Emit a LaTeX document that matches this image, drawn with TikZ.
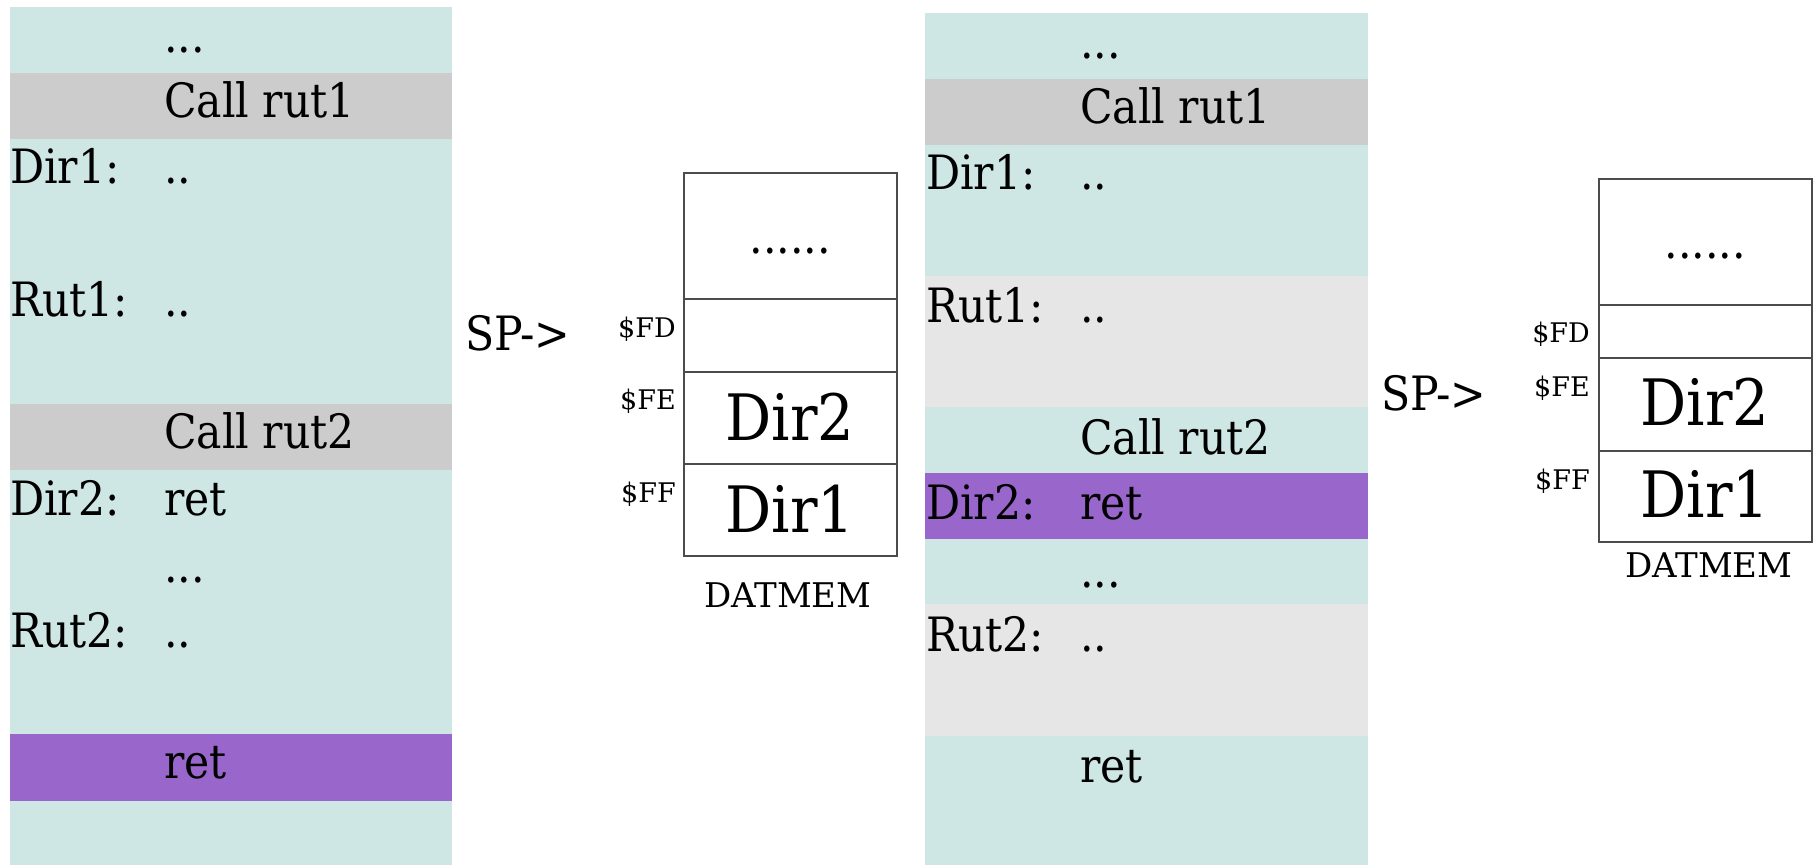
\documentclass[tikz,border=0pt]{standalone}
\usepackage{fontspec}
\setmainfont{DejaVu Serif}
\newfontfamily\condfont{DejaVu Serif Condensed}
\definecolor{tealband}{RGB}{207,231,228}
\definecolor{grayband}{RGB}{204,204,204}
\definecolor{lightband}{RGB}{230,230,230}
\definecolor{purpleband}{RGB}{153,102,204}
\tikzset{
  txt/.style={inner sep=0pt, anchor=base west, font=\condfont\fontsize{47.3}{52}\selectfont},
  big/.style={inner sep=0pt, anchor=base, font=\condfont\fontsize{64}{70}\selectfont},
  addr/.style={inner sep=0pt, anchor=base east, font=\fontsize{27}{30}\selectfont},
  memlbl/.style={inner sep=0pt, anchor=base, font=\fontsize{34}{38}\selectfont},
  dots/.style={inner sep=0pt, anchor=base, font=\condfont\fontsize{47.3}{52}\selectfont},
  cellline/.style={draw=black!70, line width=1.3pt}
}
\begin{document}
\begin{tikzpicture}[x=1pt,y=-1pt]
\useasboundingbox (0,0) rectangle (1816,865);
% ---------- panel 1 ----------
\fill[tealband]   (10,7)   rectangle (452,73);
\fill[grayband]   (10,73)  rectangle (452,139);
\fill[tealband]   (10,139) rectangle (452,404);
\fill[grayband]   (10,404) rectangle (452,470);
\fill[tealband]   (10,470) rectangle (452,734);
\fill[purpleband] (10,734) rectangle (452,801);
\fill[tealband]   (10,801) rectangle (452,865);
\node[txt] (a0) at (164,52) {...};
\node[txt] (a1) at (164,117) {Call rut1};
\node[txt] (l1) at (10,183) {Dir1:};
\node[txt] (a2) at (164,183) {..};
\node[txt] (l2) at (10,316) {Rut1:};
\node[txt] (a3) at (164,316) {..};
\node[txt] (a4) at (164,448) {Call rut2};
\node[txt] (l3) at (10,515) {Dir2:};
\node[txt] (a5) at (164,515) {ret};
\node[txt] (a6) at (164,582) {...};
\node[txt] (l4) at (10,647) {Rut2:};
\node[txt] (a7) at (164,647) {..};
\node[txt] (a8) at (164,778) {ret};
% ---------- stack 1 ----------
\node[txt] (sp1) at (465,350) {SP->};
\draw[cellline] (684,173) rectangle (897,556);
\draw[cellline] (684,299) -- (897,299);
\draw[cellline] (684,372) -- (897,372);
\draw[cellline] (684,464) -- (897,464);
\node[dots] (m1d) at (790,253) {......};
\node[big] (m1a) at (790,440) {Dir2};
\node[big] (m1b) at (790,532) {Dir1};
\node[addr] (f1d) at (676,337) {\$FD};
\node[addr] (f1e) at (676,409) {\$FE};
\node[addr] (f1f) at (676,502) {\$FF};
\node[memlbl] (dm1) at (788,607) {DATMEM};
% ---------- panel 2 ----------
\fill[tealband]   (925,13)  rectangle (1368,79);
\fill[grayband]   (925,79)  rectangle (1368,145);
\fill[tealband]   (925,145) rectangle (1368,276);
\fill[lightband]  (925,276) rectangle (1368,407);
\fill[tealband]   (925,407) rectangle (1368,473);
\fill[purpleband] (925,473) rectangle (1368,539);
\fill[tealband]   (925,539) rectangle (1368,604);
\fill[lightband]  (925,604) rectangle (1368,736);
\fill[tealband]   (925,736) rectangle (1368,865);
\node[txt] (b0) at (1080,58) {...};
\node[txt] (b1) at (1080,123) {Call rut1};
\node[txt] (k1) at (926,189) {Dir1:};
\node[txt] (b2) at (1080,189) {..};
\node[txt] (k2) at (926,322) {Rut1:};
\node[txt] (b3) at (1080,322) {..};
\node[txt] (b4) at (1080,454) {Call rut2};
\node[txt] (k3) at (926,519) {Dir2:};
\node[txt] (b5) at (1080,519) {ret};
\node[txt] (b6) at (1080,587) {...};
\node[txt] (k4) at (926,651) {Rut2:};
\node[txt] (b7) at (1080,651) {..};
\node[txt] (b8) at (1080,782) {ret};
% ---------- stack 2 ----------
\node[txt] (sp2) at (1381,410) {SP->};
\draw[cellline] (1599,179) rectangle (1812,542);
\draw[cellline] (1599,305) -- (1812,305);
\draw[cellline] (1599,358) -- (1812,358);
\draw[cellline] (1599,451) -- (1812,451);
\node[dots] (m2d) at (1705,258) {......};
\node[big] (m2a) at (1705,425) {Dir2};
\node[big] (m2b) at (1705,517) {Dir1};
\node[addr] (f2d) at (1590,342) {\$FD};
\node[addr] (f2e) at (1590,396) {\$FE};
\node[addr] (f2f) at (1590,489) {\$FF};
\node[memlbl] (dm2) at (1709,577) {DATMEM};
\end{tikzpicture}
\end{document}
